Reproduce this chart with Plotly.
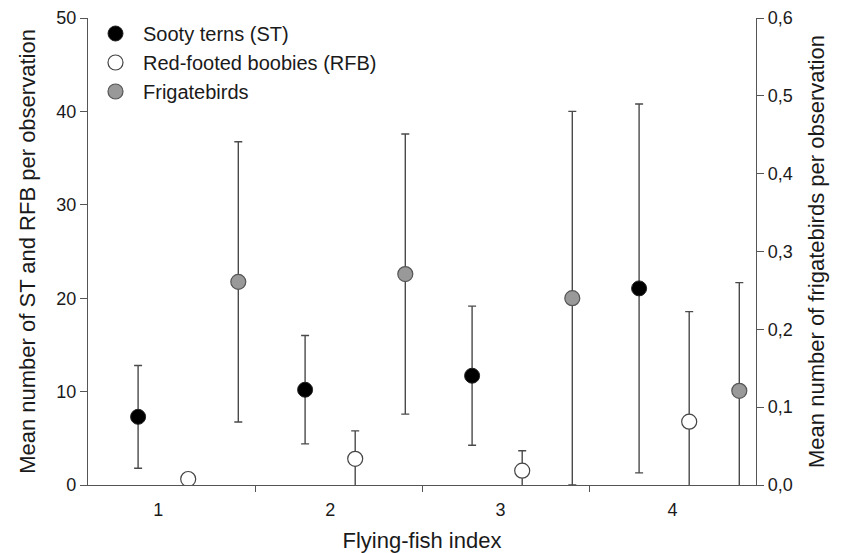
import plotly.graph_objects as go

# Data
index_labels = ["1", "2", "3", "4"]
index_values = [1, 2, 3, 4]
tick_positions = [0.92, 1.95, 2.97, 4.0]

st_mean = [7.3, 10.2, 11.7, 21.05]
st_sd = [5.5, 5.8, 7.45, 19.75]

rfb_mean = [0.64, 2.8, 1.53, 6.78]
rfb_sd = [0.6, 3.0, 2.14, 11.78]

fb_mean = [0.261, 0.271, 0.240, 0.121]
fb_sd = [0.180, 0.180, 0.240, 0.139]

# horizontal offsets of each series within a category (layout)
off_st, off_rfb, off_fb = -0.2, 0.1, 0.4

err_color = "#4a4a4a"
axis_color = "#555555"
font_family = "Liberation Sans, Arial, sans-serif"

fig = go.Figure()

def eb(arr):
    return dict(type="data", array=arr, symmetric=True, color=err_color,
                thickness=1.4, width=4)

fig.add_trace(go.Scatter(
    x=[v + off_st for v in index_values], y=st_mean, mode="markers",
    name="Sooty terns (ST)",
    marker=dict(size=15, color="black", line=dict(color="#222222", width=1)),
    error_y=eb(st_sd), cliponaxis=True))

fig.add_trace(go.Scatter(
    x=[v + off_rfb for v in index_values], y=rfb_mean, mode="markers",
    name="Red-footed boobies (RFB)",
    marker=dict(size=15, color="white", line=dict(color="#444444", width=1.2)),
    error_y=eb(rfb_sd), cliponaxis=True))

fig.add_trace(go.Scatter(
    x=[v + off_fb for v in index_values], y=fb_mean, mode="markers",
    name="Frigatebirds", yaxis="y2",
    marker=dict(size=15, color="#999999", line=dict(color="#555555", width=1.2)),
    error_y=eb(fb_sd), cliponaxis=True))

axis_line = dict(showline=True, linecolor=axis_color, linewidth=1.4,
                 showgrid=False, zeroline=False, automargin=False)

# plot area: top margin 0, y domain leaves 10 px on top
H, T, B = 545, 0, 68
plot_h = H - T - B
dom_top = 1 - 10 / plot_h

fig.update_layout(
    width=844, height=H,
    margin=dict(l=80, r=96, t=T, b=B),
    paper_bgcolor="white", plot_bgcolor="white",
    separators=",.",
    font=dict(family=font_family, size=18, color="#1a1a1a"),
    showlegend=True,
    legend=dict(x=0.0, y=1 - 6 / plot_h, xanchor="left", yanchor="top",
                bgcolor="rgba(0,0,0,0)", font=dict(size=20),
                tracegroupgap=0, itemwidth=45),
    xaxis=dict(range=[0.5, 4.5], tickvals=tick_positions, ticktext=index_labels,
               ticks="outside", ticklen=8, tickcolor="rgba(0,0,0,0)",
               title=dict(text="Flying-fish index", font=dict(size=22), standoff=14),
               minor=dict(tickvals=[1.5, 2.5, 3.5], ticks="outside", ticklen=6,
                          tickcolor=axis_color, tickwidth=1.4),
               **axis_line),
    yaxis=dict(range=[0, 50], dtick=10, ticks="outside", ticklen=7,
               domain=[0, dom_top],
               tickcolor=axis_color, tickwidth=1.4,
               title=dict(text="Mean number of ST and RFB per observation",
                          font=dict(size=22), standoff=14),
               **axis_line),
    yaxis2=dict(range=[0, 0.6], dtick=0.1, tickformat=".1f", overlaying="y",
                side="right", ticks="outside", ticklen=7, tickcolor=axis_color,
                tickwidth=1.4,
                title=dict(text="Mean number of frigatebirds per observation",
                           font=dict(size=22), standoff=16),
                **axis_line),
)

fig.write_html("out.html")
